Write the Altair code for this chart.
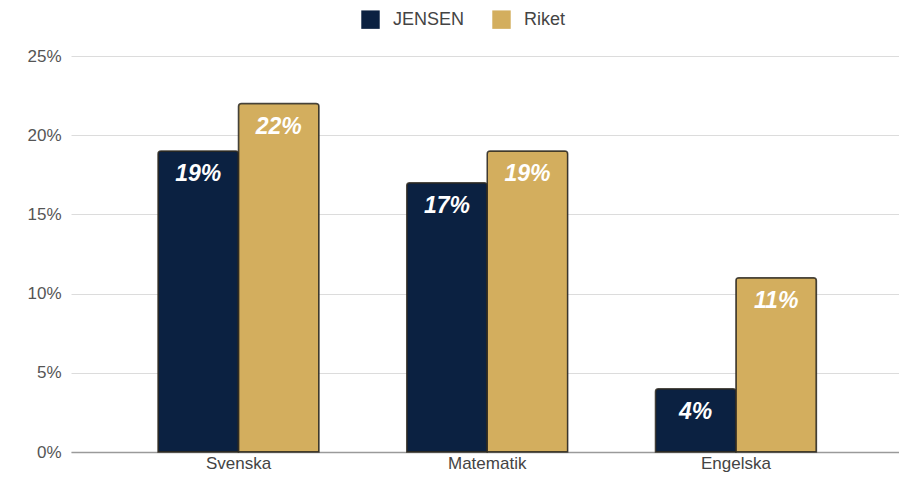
import altair as alt
import pandas as pd

categories = ["Svenska", "Matematik", "Engelska"]
series = ["JENSEN", "Riket"]
jensen = [19, 17, 4]
riket = [22, 19, 11]
colors = ["#0b2141", "#d3ae5e"]
y_ticks = [0, 5, 10, 15, 20, 25]

rows = []
for cat, j, r in zip(categories, jensen, riket):
    rows.append({"Ämne": cat, "Serie": series[0], "Andel": j / 100})
    rows.append({"Ämne": cat, "Serie": series[1], "Andel": r / 100})
df = pd.DataFrame(rows)

FONT = "Liberation Sans"

x_enc = alt.X(
    "Ämne:N",
    sort=categories,
    title=None,
    scale=alt.Scale(paddingInner=0.353, paddingOuter=0.341, align=0.513),
    axis=alt.Axis(
        labelAngle=0,
        labelFont=FONT,
        labelFontSize=17,
        labelColor="#444444",
        labelPadding=3,
        ticks=False,
        domainColor="#9a9a9a",
        domainWidth=1.5,
        grid=False,
    ),
)
xoff_enc = alt.XOffset(
    "Serie:N", sort=series, scale=alt.Scale(paddingInner=0, paddingOuter=0)
)
y_enc = alt.Y(
    "Andel:Q",
    title=None,
    scale=alt.Scale(domain=[0, 0.25], nice=False),
    axis=alt.Axis(
        values=[v / 100 for v in y_ticks],
        format=".0%",
        labelFont=FONT,
        labelFontSize=17,
        labelColor="#555555",
        labelPadding=10,
        ticks=False,
        domain=False,
        gridColor="#dcdcdc",
        gridWidth=1,
    ),
)

bars = alt.Chart(df).mark_bar(
    stroke="#2e2a22",
    strokeWidth=1.5,
    strokeOpacity=0.85,
    cornerRadiusTopLeft=3,
    cornerRadiusTopRight=3,
).encode(
    x=x_enc,
    xOffset=xoff_enc,
    y=y_enc,
    color=alt.Color(
        "Serie:N",
        sort=series,
        scale=alt.Scale(domain=series, range=colors),
        legend=alt.Legend(
            title=None,
            orient="none",
            direction="horizontal",
            legendX=290,
            legendY=-46,
            symbolType="square",
            symbolSize=340,
            symbolStrokeWidth=0,
            labelFont=FONT,
            labelFontSize=18,
            labelColor="#444444",
            labelOffset=13,
            columnPadding=27,
            padding=0,
        ),
    ),
)

labels = alt.Chart(df).mark_text(
    color="white",
    font=FONT,
    fontSize=23,
    fontWeight="bold",
    fontStyle="italic",
    baseline="middle",
    align="center",
    dy=23,
).encode(
    x=alt.X("Ämne:N", sort=categories),
    xOffset=alt.XOffset("Serie:N", sort=series),
    y=alt.Y("Andel:Q"),
    text=alt.Text("Andel:Q", format=".0%"),
)

chart = (
    alt.layer(bars, labels)
    .properties(
        width=828,
        height=396,
        autosize=alt.AutoSizeParams(type="none"),
        padding={"left": 63, "top": 48, "right": 0, "bottom": 21},
        background="white",
    )
    .configure_view(stroke=None)
)

chart.save("out.html", embed_options={"renderer": "svg", "actions": False})
